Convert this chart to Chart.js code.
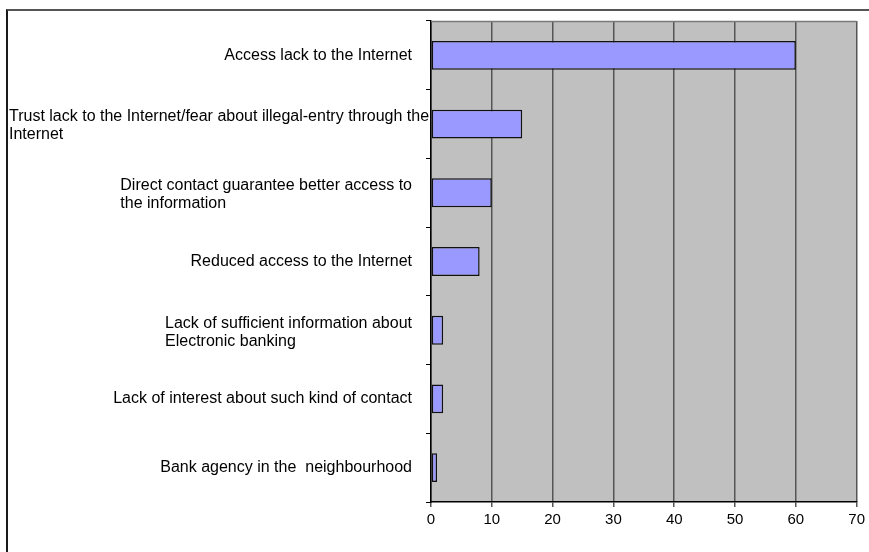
<!DOCTYPE html>
<html>
<head>
<meta charset="utf-8">
<script src="https://cdn.jsdelivr.net/npm/chart.js@4.4.1/dist/chart.umd.min.js"></script>
<style>
  html, body { margin: 0; padding: 0; background: #fff; overflow: hidden; }
  #frame {
    position: absolute; left: 6px; top: 9px; width: 900px; height: 600px;
    border-left: 2px solid #1a1a1a; border-top: 2px solid #555;
  }
  #wrap { position: absolute; left: 0; top: 0; width: 869px; height: 552px; }
</style>
</head>
<body>
<div id="frame"></div>
<div id="wrap"><canvas id="chart"></canvas></div>
<script>
const reasons = [
    ['Access lack to the Internet'],
    ['Trust lack to the Internet/fear about illegal-entry through the', 'Internet'],
    ['Direct contact guarantee better access to', 'the information'],
    ['Reduced access to the Internet'],
    ['Lack of sufficient information about', 'Electronic banking'],
    ['Lack of interest about such kind of contact'],
    ['Bank agency in the  neighbourhood']
];
const answers = [60, 15, 10, 8, 2, 2, 1];
const axisTicks = [0, 10, 20, 30, 40, 50, 60, 70];

const labelFont = '16px "Liberation Sans", Arial, sans-serif';

// grey plot area + grey top edge
const plotBackground = {
    id: 'plotBackground',
    beforeDraw(chart) {
        const { ctx, chartArea: a } = chart;
        ctx.save();
        ctx.fillStyle = '#c0c0c0';
        ctx.fillRect(a.left, a.top, a.right - a.left, a.bottom - a.top);
        ctx.restore();
    },
    afterDraw(chart) {
        const { ctx, chartArea: a } = chart;
        ctx.save();
        ctx.strokeStyle = '#7a7a7a';
        ctx.lineWidth = 1.5;
        ctx.beginPath();
        ctx.moveTo(a.left, a.top + 0.5);
        ctx.lineTo(a.right, a.top + 0.5);
        ctx.stroke();
        ctx.restore();
    }
};

// category labels: block right-aligned near the axis, lines left-aligned inside
const categoryLabels = {
    id: 'categoryLabels',
    afterDraw(chart) {
        const { ctx, chartArea: a } = chart;
        const yScale = chart.scales.y;
        ctx.save();
        ctx.font = labelFont;
        ctx.fillStyle = '#000';
        ctx.textAlign = 'left';
        ctx.textBaseline = 'middle';
        const lineH = 18;
        reasons.forEach((lines, i) => {
            const y = yScale.getPixelForValue(i);
            const w = Math.max(...lines.map(l => ctx.measureText(l).width));
            const x0 = Math.max(a.left - 19 - w, 9);
            const y0 = y - (lines.length - 1) * lineH / 2 + (lines.length > 1 ? 2 : 0);
            lines.forEach((l, j) => ctx.fillText(l, x0, y0 + j * lineH));
        });
        ctx.restore();
    }
};

new Chart(document.getElementById('chart'), {
    type: 'bar',
    data: {
        labels: reasons.map(r => r.join(' ')),
        datasets: [{
            data: answers,
            backgroundColor: '#9999ff',
            borderColor: '#111',
            borderWidth: 1.5,
            borderSkipped: false,
            categoryPercentage: 1,
            barPercentage: 0.42
        }]
    },
    options: {
        indexAxis: 'y',
        responsive: true,
        maintainAspectRatio: false,
        animation: false,
        layout: { padding: { left: 426, top: 21, right: 12, bottom: 19 } },
        plugins: { legend: { display: false }, tooltip: { enabled: false } },
        scales: {
            x: {
                min: axisTicks[0],
                max: axisTicks[axisTicks.length - 1],
                afterBuildTicks: scale => { scale.ticks = axisTicks.map(v => ({ value: v })); },
                ticks: {
                    color: '#000',
                    padding: 4,
                    font: { family: '"Liberation Sans", Arial, sans-serif', size: 15 }
                },
                grid: { color: '#555', lineWidth: 1.5, tickLength: 5 },
                border: { color: '#000', width: 1.5 }
            },
            y: {
                offset: true,
                ticks: { display: false },
                grid: { offset: true, drawOnChartArea: false, color: '#000', tickLength: 5 },
                border: { color: '#000', width: 1.5 }
            }
        }
    },
    plugins: [plotBackground, categoryLabels]
});
</script>
</body>
</html>
